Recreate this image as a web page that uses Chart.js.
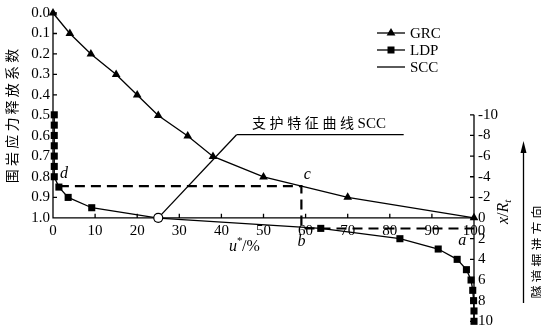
<!DOCTYPE html>
<html>
<head>
<meta charset="utf-8">
<script src="https://cdn.jsdelivr.net/npm/chart.js@4/dist/chart.umd.min.js"></script>
<style>
  html, body { margin: 0; padding: 0; background: #fff; }
  #wrap { width: 541px; height: 327px; }
</style>
</head>
<body>
<div id="wrap"><canvas id="c" width="541" height="327"></canvas></div>
<script>
// Ground reaction curve (GRC): displacement ratio u*/% against stress release coefficient
const grcU      = [0, 4, 9, 15, 20, 25, 32, 38, 50, 70, 100];
const grcLambda = [0, 0.1, 0.2, 0.3, 0.4, 0.5, 0.6, 0.7, 0.8, 0.9, 1.0];

// Longitudinal deformation profile (LDP): u*/% against distance to the face x/Rt
const ldpU = [0.3, 0.3, 0.3, 0.3, 0.3, 0.3, 0.3, 1.4, 3.6, 9.2, 25, 63.6, 82.4, 91.5, 96, 98.2, 99.3, 99.7, 99.9, 100, 100];
const ldpX = [-10, -9, -8, -7, -6, -5, -4, -3, -2, -1, 0, 1, 2, 3, 4, 5, 6, 7, 8, 9, 10];

// Support characteristic curve (SCC), installed at u* = 25 %
const sccU      = [25, 43.6];
const sccLambda = [1.0, 0.594];

// leader line from the SCC to its caption
const leaderU      = [43.6, 83.3];
const leaderLambda = [0.594, 0.594];

// construction path d -> c -> b -> a
const guideU      = [1.4, 59, 59, 100];
const guideLambda = [0.845, 0.845, 1.052, 1.052];

// axis ticks
const uTicks      = [0, 10, 20, 30, 40, 50, 60, 70, 80, 90, 100];
const lambdaTicks = [0, 0.1, 0.2, 0.3, 0.4, 0.5, 0.6, 0.7, 0.8, 0.9, 1.0];
const faceTicks   = [-10, -8, -6, -4, -2, 0, 2, 4, 6, 8, 10];

const legendNames = ['GRC', 'LDP', 'SCC'];

const SERIF = '"Liberation Serif", "Times New Roman", serif';
const CJK = '"Noto Sans CJK SC", sans-serif';

const pts = (xs, ys) => xs.map((v, i) => ({ x: v, y: ys[i] }));

function spacedWidth(ctx, str, gap) {
  let w = 0;
  for (const ch of str) w += ctx.measureText(ch).width + gap;
  return w - gap;
}
function spacedText(ctx, str, x, y, gap) {
  let cx = x;
  for (const ch of str) { ctx.fillText(ch, cx, y); cx += ctx.measureText(ch).width + gap; }
  return cx;
}
function marker(ctx, style, x, y) {
  ctx.beginPath();
  if (style === 'triangle') {
    ctx.moveTo(x, y - 5); ctx.lineTo(x + 4.4, y + 2.6); ctx.lineTo(x - 4.4, y + 2.6); ctx.closePath();
  } else if (style === 'rect') {
    ctx.rect(x - 3.5, y - 3.5, 7, 7);
  }
  ctx.fill();
}

// axis lines with inward tick marks
const framePlugin = {
  id: 'frame',
  beforeDatasetsDraw(chart) {
    const { ctx } = chart;
    const { x, y, y2 } = chart.scales;
    const x0 = x.getPixelForValue(0), x1 = x.getPixelForValue(100);
    const yTop = y.getPixelForValue(0), yBase = y.getPixelForValue(1);
    ctx.save();
    ctx.strokeStyle = '#000';
    ctx.lineWidth = 1.3;
    ctx.beginPath();
    ctx.moveTo(x0, yTop); ctx.lineTo(x0, yBase); ctx.lineTo(x1, yBase);
    ctx.moveTo(x1, y2.getPixelForValue(-10)); ctx.lineTo(x1, y2.getPixelForValue(10));
    lambdaTicks.forEach(v => { const p = y.getPixelForValue(v); ctx.moveTo(x0, p); ctx.lineTo(x0 + 4, p); });
    uTicks.forEach(v => { const p = x.getPixelForValue(v); ctx.moveTo(p, yBase); ctx.lineTo(p, yBase - 4); });
    faceTicks.forEach(v => { const p = y2.getPixelForValue(v); ctx.moveTo(x1, p); ctx.lineTo(x1 - 4, p); });
    ctx.stroke();
    ctx.restore();
  }
};

// titles, legend, point letters, caption and tunnelling arrow
const notesPlugin = {
  id: 'notes',
  afterDraw(chart) {
    const { ctx } = chart;
    const { x, y } = chart.scales;
    ctx.save();
    ctx.fillStyle = '#000';
    ctx.strokeStyle = '#000';

    // left axis title
    ctx.font = '14px ' + CJK;
    ctx.textBaseline = 'middle';
    ctx.textAlign = 'left';
    ctx.save();
    ctx.translate(12, 116);
    ctx.rotate(-Math.PI / 2);
    const lt = '围岩应力释放系数';
    spacedText(ctx, lt, -spacedWidth(ctx, lt, 3.2) / 2, 0, 3.2);
    ctx.restore();

    // right axis title x/Rt
    ctx.save();
    ctx.translate(503, 224);
    ctx.rotate(-Math.PI / 2);
    ctx.textBaseline = 'alphabetic';
    ctx.font = 'italic 16px ' + SERIF;
    let cx = 0;
    ctx.fillText('x', cx, 5); cx += ctx.measureText('x').width;
    ctx.font = '16px ' + SERIF;
    ctx.fillText('/', cx, 5); cx += ctx.measureText('/').width;
    ctx.font = 'italic 16px ' + SERIF;
    ctx.fillText('R', cx, 5); cx += ctx.measureText('R').width;
    ctx.font = 'italic 11px ' + SERIF;
    ctx.fillText('t', cx, 8);
    ctx.restore();

    // tunnelling direction arrow and text
    ctx.lineWidth = 1.3;
    ctx.beginPath();
    ctx.moveTo(523.5, 303); ctx.lineTo(523.5, 150);
    ctx.stroke();
    ctx.beginPath();
    ctx.moveTo(523.5, 141); ctx.lineTo(526.5, 153); ctx.lineTo(520.5, 153); ctx.closePath();
    ctx.fill();
    ctx.save();
    ctx.font = '13px ' + CJK;
    ctx.textBaseline = 'middle';
    ctx.translate(537, 252);
    ctx.rotate(-Math.PI / 2);
    const rt = '隧道掘进方向';
    spacedText(ctx, rt, -spacedWidth(ctx, rt, 3) / 2, 0, 3);
    ctx.restore();

    // x axis title u*/%
    ctx.textBaseline = 'alphabetic';
    ctx.font = 'italic 16px ' + SERIF;
    ctx.fillText('u', 229, 251);
    ctx.font = '11px ' + SERIF;
    ctx.fillText('*', 237, 244);
    ctx.font = '16px ' + SERIF;
    ctx.fillText('/%', 242, 251);

    // point letters
    ctx.font = 'italic 16px ' + SERIF;
    ctx.textAlign = 'center';
    ctx.textBaseline = 'middle';
    [['d', 2.6, 0.784], ['c', 60.4, 0.79], ['b', 59, 1.115], ['a', 97.2, 1.11]].forEach(([t, u, l]) => {
      ctx.fillText(t, x.getPixelForValue(u), y.getPixelForValue(l));
    });

    // SCC caption
    ctx.textAlign = 'left';
    ctx.font = '14px ' + CJK;
    let ex = spacedText(ctx, '支护特征曲线', 252, 123, 3.6);
    ctx.font = '15px ' + SERIF;
    ctx.fillText('SCC', ex, 124);

    // legend
    const rows = [33, 50, 67];
    const styles = ['triangle', 'rect', null];
    ctx.lineWidth = 1.3;
    rows.forEach((ry, i) => {
      ctx.beginPath(); ctx.moveTo(377, ry); ctx.lineTo(405, ry); ctx.stroke();
      if (styles[i]) marker(ctx, styles[i], 391, ry);
      ctx.font = '15px ' + SERIF;
      ctx.textBaseline = 'middle';
      ctx.fillText(legendNames[i], 410, ry + 1);
    });
    ctx.restore();
  }
};

const tickFont = { family: SERIF, size: 15 };

new Chart(document.getElementById('c'), {
  type: 'scatter',
  data: {
    datasets: [
      {
        label: 'SCC', data: pts(sccU, sccLambda), yAxisID: 'y', showLine: true, order: 0, clip: false,
        borderColor: '#000', borderWidth: 1.3,
        pointRadius: ctx => ctx.dataIndex === 0 ? 4.5 : 0,
        pointBackgroundColor: '#fff', pointBorderColor: '#000', pointBorderWidth: 1.2
      },
      {
        label: 'leader', data: pts(leaderU, leaderLambda), yAxisID: 'y', showLine: true, order: 1, clip: false,
        borderColor: '#000', borderWidth: 1.3, pointRadius: 0
      },
      {
        label: 'GRC', data: pts(grcU, grcLambda), yAxisID: 'y', showLine: true, order: 2, clip: false,
        borderColor: '#000', borderWidth: 1.3,
        pointStyle: 'triangle', pointRadius: 5, pointBackgroundColor: '#000', pointBorderWidth: 0
      },
      {
        label: 'LDP', data: pts(ldpU, ldpX), yAxisID: 'y2', showLine: true, order: 3, clip: false,
        borderColor: '#000', borderWidth: 1.3,
        pointStyle: 'rect', pointRadius: 5, pointBackgroundColor: '#000', pointBorderWidth: 0
      },
      {
        label: 'guide', data: pts(guideU, guideLambda), yAxisID: 'y', showLine: true, order: 4, clip: false,
        borderColor: '#000', borderWidth: 2.2, borderDash: [10, 6], pointRadius: 0
      }
    ]
  },
  options: {
    responsive: false,
    animation: false,
    devicePixelRatio: 1,
    layout: { padding: { top: 13, bottom: 5, left: 0, right: 0 } },
    plugins: { legend: { display: false }, tooltip: { enabled: false } },
    scales: {
      x: {
        type: 'linear', min: 0, max: 100,
        position: { y: 1.0 },
        grid: { display: false, drawTicks: false },
        border: { display: false },
        afterBuildTicks: s => { s.ticks = uTicks.map(v => ({ value: v })); },
        afterFit: s => { s.paddingLeft = 0; s.paddingRight = 0; },
        ticks: { font: tickFont, color: '#000', padding: 4, maxRotation: 0, autoSkip: false }
      },
      y: {
        type: 'linear', position: 'left', reverse: true, min: 0, max: 1.505,
        grid: { display: false, drawTicks: false },
        border: { display: false },
        afterBuildTicks: s => { s.ticks = lambdaTicks.map(v => ({ value: v })); },
        afterFit: s => { s.width = 53; s.paddingTop = 0; s.paddingBottom = 0; },
        ticks: { font: tickFont, color: '#000', padding: 3, autoSkip: false, callback: v => v.toFixed(1) }
      },
      y2: {
        type: 'linear', position: 'right', reverse: true, min: -19.86, max: 10,
        grid: { display: false, drawTicks: false },
        border: { display: false },
        afterBuildTicks: s => { s.ticks = faceTicks.map(v => ({ value: v })); },
        afterFit: s => { s.width = 67; s.paddingTop = 0; s.paddingBottom = 0; },
        ticks: { font: tickFont, color: '#000', padding: 4, autoSkip: false, callback: v => String(v) }
      }
    }
  },
  plugins: [framePlugin, notesPlugin]
});
</script>
</body>
</html>
